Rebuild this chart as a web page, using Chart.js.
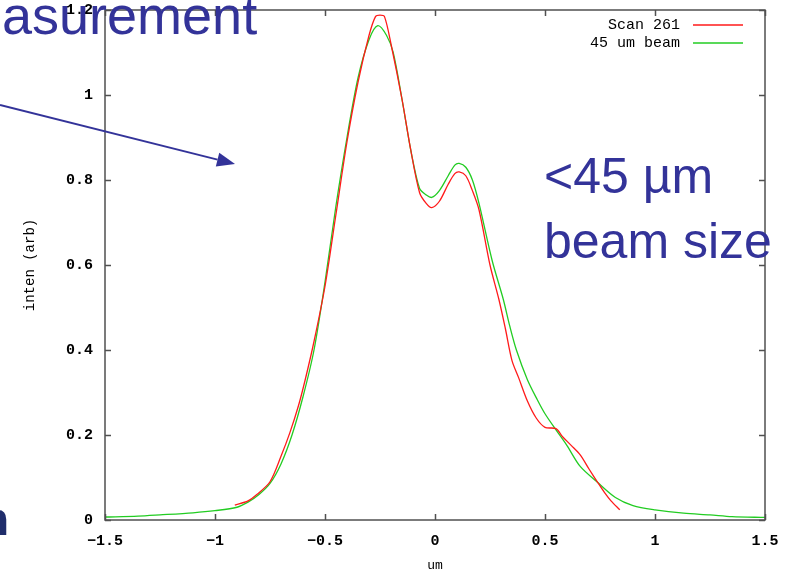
<!DOCTYPE html>
<html>
<head>
<meta charset="utf-8">
<script src="https://cdn.jsdelivr.net/npm/chart.js@4.4.1/dist/chart.umd.min.js"></script>
<style>
  html, body { margin: 0; padding: 0; background: #ffffff; }
  #plot { display: block; }
</style>
</head>
<body>
<canvas id="plot" width="791" height="573"></canvas>
<script>
// Scan 261 (red)
const scanX = [-0.91, -0.85, -0.81, -0.75, -0.70, -0.66, -0.62, -0.59, -0.55, -0.50, -0.45, -0.40, -0.35, -0.30,
    -0.27, -0.25, -0.23, -0.20, -0.15, -0.11, -0.07, -0.04, -0.015, 0.02, 0.06, 0.09, 0.11, 0.14, 0.17, 0.20,
    0.25, 0.29, 0.32, 0.35, 0.38, 0.42, 0.46, 0.50, 0.55, 0.58, 0.62, 0.66, 0.70, 0.74, 0.77, 0.80, 0.84];
const scanY = [0.035, 0.045, 0.060, 0.090, 0.150, 0.205, 0.270, 0.330, 0.420, 0.550, 0.720, 0.890, 1.030, 1.140,
    1.185, 1.188, 1.185, 1.120, 0.990, 0.870, 0.770, 0.745, 0.735, 0.750, 0.790, 0.815, 0.819, 0.810, 0.775, 0.730,
    0.600, 0.520, 0.450, 0.375, 0.335, 0.280, 0.240, 0.218, 0.215, 0.196, 0.175, 0.153, 0.120, 0.088, 0.065, 0.045, 0.024];

// 45 um beam (green)
const beamX = [-1.5, -1.35, -1.25, -1.10, -1.00, -0.90, -0.85, -0.80, -0.75, -0.70, -0.65, -0.60, -0.55, -0.50,
    -0.45, -0.40, -0.35, -0.30, -0.26, -0.22, -0.19, -0.15, -0.11, -0.07, -0.04, -0.015, 0.02, 0.06, 0.09, 0.11,
    0.14, 0.17, 0.20, 0.26, 0.31, 0.34, 0.37, 0.42, 0.465, 0.50, 0.55, 0.60, 0.66, 0.74, 0.82, 0.90, 1.00, 1.13,
    1.25, 1.35, 1.5];
const beamY = [0.007, 0.009, 0.012, 0.017, 0.022, 0.030, 0.042, 0.060, 0.086, 0.132, 0.200, 0.290, 0.400, 0.560,
    0.740, 0.900, 1.040, 1.130, 1.163, 1.140, 1.100, 0.990, 0.870, 0.780, 0.765, 0.759, 0.775, 0.810, 0.835, 0.839,
    0.830, 0.800, 0.745, 0.610, 0.520, 0.456, 0.400, 0.330, 0.283, 0.250, 0.212, 0.175, 0.126, 0.088, 0.053, 0.034,
    0.024, 0.016, 0.012, 0.008, 0.006];

const seriesLabels = ['Scan 261', '45 um beam'];
const seriesColors = ['#ff1a1a', '#22cc22'];

const xTicks = [-1.5, -1, -0.5, 0, 0.5, 1, 1.5];
const yTicks = [0, 0.2, 0.4, 0.6, 0.8, 1, 1.2];

const monoFont = '"Liberation Mono", "DejaVu Sans Mono", monospace';
const slideBlue = '#333399';

function toPoints(xs, ys) {
    return xs.map((x, i) => ({ x: x, y: ys[i] }));
}

// gnuplot-style frame with inward ticks on all four sides
const framePlugin = {
    id: 'frame',
    afterDatasetsDraw(chart) {
        const { ctx, chartArea: a, scales } = chart;
        ctx.save();
        ctx.strokeStyle = '#505050';
        ctx.lineWidth = 1.5;
        ctx.strokeRect(a.left, a.top, a.right - a.left, a.bottom - a.top);
        ctx.beginPath();
        xTicks.forEach(v => {
            const px = Math.round(scales.x.getPixelForValue(v)) + 0.5;
            ctx.moveTo(px, a.bottom); ctx.lineTo(px, a.bottom - 6);
            ctx.moveTo(px, a.top); ctx.lineTo(px, a.top + 6);
        });
        yTicks.forEach(v => {
            const py = Math.round(scales.y.getPixelForValue(v)) + 0.5;
            ctx.moveTo(a.left, py); ctx.lineTo(a.left + 6, py);
            ctx.moveTo(a.right, py); ctx.lineTo(a.right - 6, py);
        });
        ctx.stroke();

        // key, top right inside the plot
        ctx.font = '15px ' + monoFont;
        ctx.textAlign = 'right';
        ctx.textBaseline = 'middle';
        chart.data.datasets.forEach((ds, i) => {
            const y = a.top + 15 + i * 18;
            ctx.fillStyle = '#000000';
            ctx.fillText(ds.label, a.right - 85, y);
            ctx.strokeStyle = ds.borderColor;
            ctx.lineWidth = 1.3;
            ctx.beginPath();
            ctx.moveTo(a.right - 72, y);
            ctx.lineTo(a.right - 22, y);
            ctx.stroke();
        });
        ctx.restore();
    }
};

// slide text and arrow lying over the chart picture
const slidePlugin = {
    id: 'slide',
    afterDraw(chart) {
        const ctx = chart.ctx;
        ctx.save();
        ctx.fillStyle = slideBlue;
        ctx.textAlign = 'left';
        ctx.textBaseline = 'alphabetic';
        ctx.font = '54px "Liberation Sans", Arial, sans-serif';
        ctx.fillText('asurement', 2, 34);

        ctx.font = '50px "Liberation Sans", Arial, sans-serif';
        ctx.fillText('<45 \u00b5m', 544, 193);
        ctx.fillText('beam size', 544, 258);

        ctx.fillStyle = '#1f2d6b';
        ctx.font = 'bold 46px "Liberation Sans", Arial, sans-serif';
        ctx.textAlign = 'right';
        ctx.fillText('n', 9, 535);

        // arrow
        const x0 = 0, y0 = 105, x1 = 235, y1 = 164;
        const ang = Math.atan2(y1 - y0, x1 - x0);
        const hl = 18, hw = 7;
        const bx = x1 - hl * Math.cos(ang), by = y1 - hl * Math.sin(ang);
        ctx.strokeStyle = slideBlue;
        ctx.lineWidth = 2;
        ctx.beginPath();
        ctx.moveTo(x0, y0);
        ctx.lineTo(bx, by);
        ctx.stroke();
        ctx.fillStyle = slideBlue;
        ctx.beginPath();
        ctx.moveTo(x1, y1);
        ctx.lineTo(bx + hw * Math.sin(ang), by - hw * Math.cos(ang));
        ctx.lineTo(bx - hw * Math.sin(ang), by + hw * Math.cos(ang));
        ctx.closePath();
        ctx.fill();
        ctx.restore();
    }
};

const whiteBg = {
    id: 'whiteBg',
    beforeDraw(chart) {
        const ctx = chart.ctx;
        ctx.save();
        ctx.fillStyle = '#ffffff';
        ctx.fillRect(0, 0, chart.width, chart.height);
        ctx.restore();
    }
};

new Chart(document.getElementById('plot'), {
    type: 'scatter',
    data: {
        datasets: [
            {
                label: seriesLabels[0],
                data: toPoints(scanX, scanY),
                borderColor: seriesColors[0],
                backgroundColor: seriesColors[0],
                showLine: true,
                borderWidth: 1.3,
                pointRadius: 0,
                tension: 0.3
            },
            {
                label: seriesLabels[1],
                data: toPoints(beamX, beamY),
                borderColor: seriesColors[1],
                backgroundColor: seriesColors[1],
                showLine: true,
                borderWidth: 1.3,
                pointRadius: 0,
                tension: 0.3
            }
        ]
    },
    options: {
        responsive: false,
        animation: false,
        layout: { padding: { top: 0, right: 26, left: 0, bottom: 0 } },
        plugins: {
            legend: { display: false },
            tooltip: { enabled: false }
        },
        scales: {
            x: {
                type: 'linear',
                min: -1.5,
                max: 1.5,
                afterFit(scale) { scale.height = 53; },
                afterBuildTicks(scale) { scale.ticks = xTicks.map(v => ({ value: v })); },
                grid: { display: false, drawTicks: false },
                border: { display: false },
                ticks: {
                    color: '#000000',
                    padding: 12,
                    maxRotation: 0,
                    font: { family: monoFont, size: 15, weight: 'bold' },
                    callback: v => String(v).replace('-', '\u2212')
                },
                title: {
                    display: true,
                    text: 'um',
                    color: '#000000',
                    padding: { top: 0, bottom: 0 },
                    font: { family: monoFont, size: 13 }
                }
            },
            y: {
                type: 'linear',
                min: 0,
                max: 1.2,
                afterFit(scale) {
                    scale.width = 105;
                    scale.paddingTop = 10;
                },
                afterBuildTicks(scale) { scale.ticks = yTicks.map(v => ({ value: v })); },
                grid: { display: false, drawTicks: false },
                border: { display: false },
                ticks: {
                    color: '#000000',
                    padding: 12,
                    font: { family: monoFont, size: 15, weight: 'bold' },
                    callback: v => String(v)
                },
                title: {
                    display: true,
                    text: 'inten (arb)',
                    color: '#000000',
                    padding: { top: 22, bottom: 0 },
                    font: { family: monoFont, size: 14 }
                }
            }
        }
    },
    plugins: [whiteBg, framePlugin, slidePlugin]
});
</script>
</body>
</html>
